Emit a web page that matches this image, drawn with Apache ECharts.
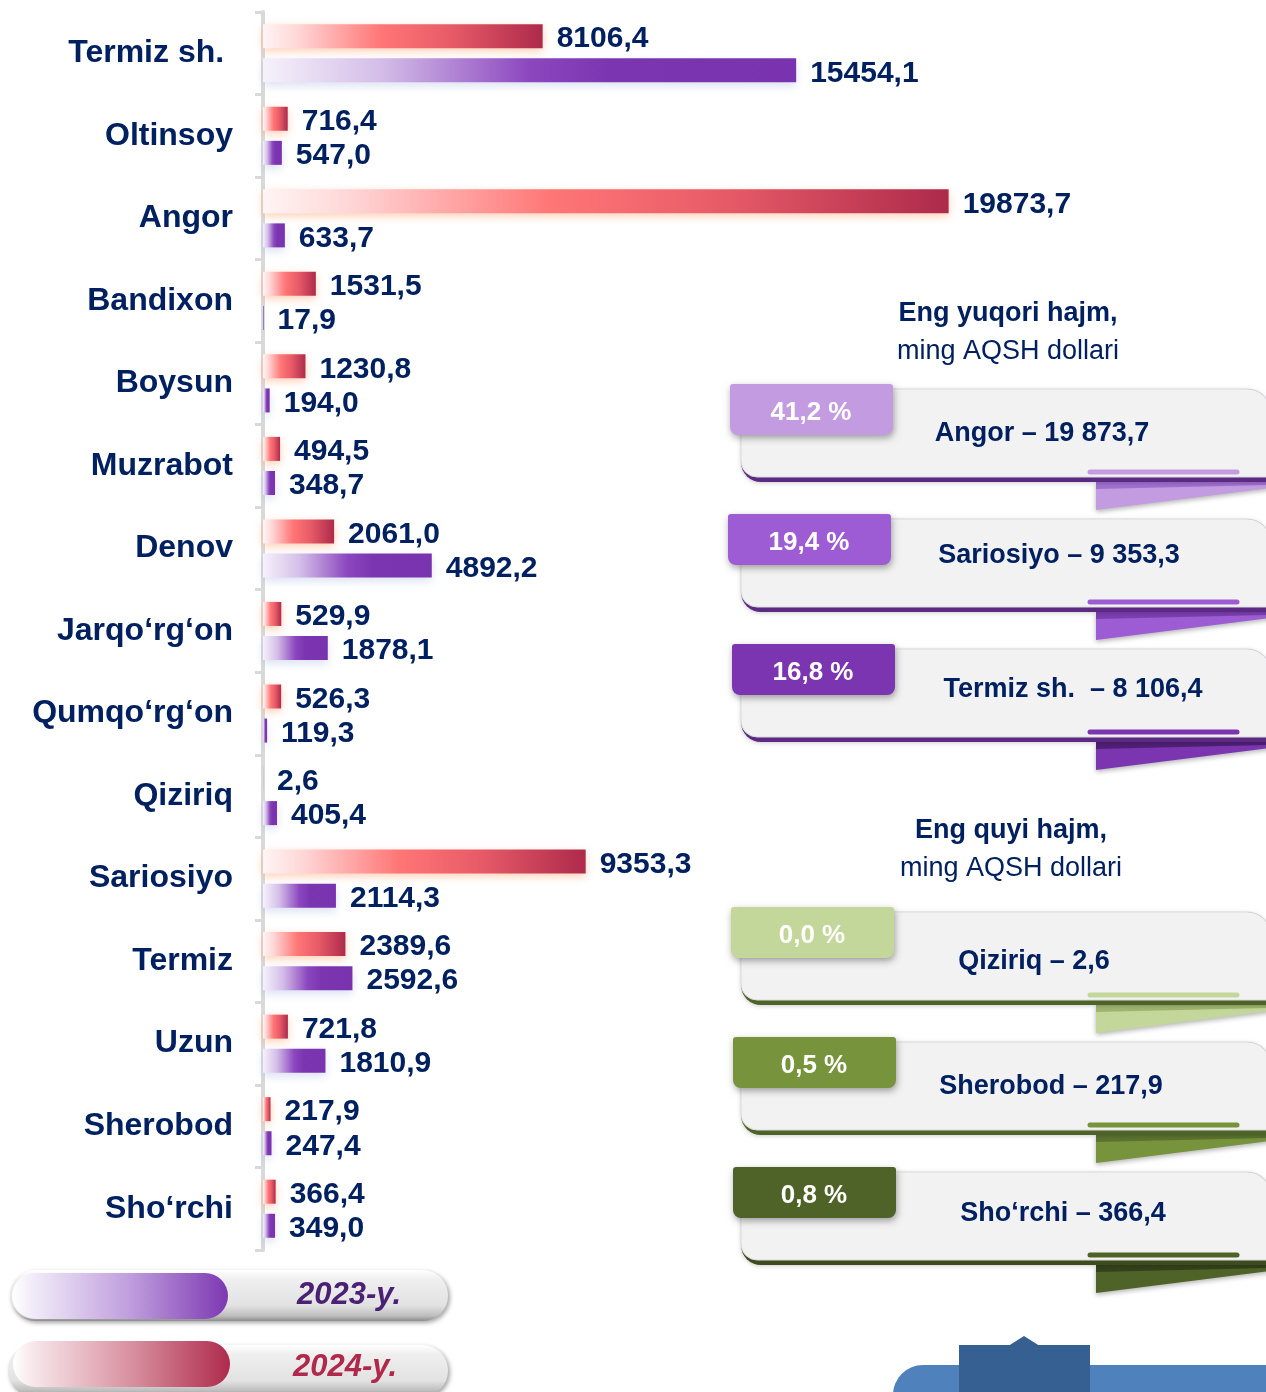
<!DOCTYPE html>
<html>
<head>
<meta charset="utf-8">
<script src="https://cdn.jsdelivr.net/npm/echarts@6/dist/echarts.min.js"></script>
<style>
  html, body { margin: 0; padding: 0; background: #ffffff; }
  #chart { width: 1266px; height: 1392px; }
</style>
</head>
<body>
<div id="chart"></div>
<script>
// Districts, top to bottom
const categories = ['Termiz sh. ', 'Oltinsoy', 'Angor', 'Bandixon', 'Boysun', 'Muzrabot', 'Denov',
  'Jarqo‘rg‘on', 'Qumqo‘rg‘on', 'Qiziriq', 'Sariosiyo', 'Termiz', 'Uzun', 'Sherobod', 'Sho‘rchi'];
// Volumes, thousand US dollars
const values2024 = [8106.4, 716.4, 19873.7, 1531.5, 1230.8, 494.5, 2061.0, 529.9, 526.3, 2.6, 9353.3, 2389.6, 721.8, 217.9, 366.4];
const values2023 = [15454.1, 547.0, 633.7, 17.9, 194.0, 348.7, 4892.2, 1878.1, 119.3, 405.4, 2114.3, 2592.6, 1810.9, 247.4, 349.0];
const seriesNames = ['2024-y.', '2023-y.'];

// Side panels: highest and lowest volumes
const headerTop = ['Eng yuqori hajm,', 'ming AQSH dollari'];
const headerLow = ['Eng quyi hajm,', 'ming AQSH dollari'];
const topShares = ['41,2 %', '19,4 %', '16,8 %'];
const topNames = ['Angor', 'Sariosiyo', 'Termiz sh. '];
const topValues = ['19 873,7', '9 353,3', '8 106,4'];
const lowShares = ['0,0 %', '0,5 %', '0,8 %'];
const lowNames = ['Qiziriq', 'Sherobod', 'Sho‘rchi'];
const lowValues = ['2,6', '217,9', '366,4'];

const FONT = "'Liberation Sans', Arial, sans-serif";
const NAVY = '#002060';

const fmt = v => v.toFixed(1).replace('.', ',');

const redFill = {
  type: 'linear', x: 0, y: 0, x2: 1, y2: 0,
  colorStops: [
    { offset: 0, color: '#fff4f4' },
    { offset: 0.12, color: '#ffd8d8' },
    { offset: 0.42, color: '#ff7676' },
    { offset: 0.68, color: '#e65a67' },
    { offset: 1, color: '#ad2a4b' }
  ]
};
const purpleFill = {
  type: 'linear', x: 0, y: 0, x2: 1, y2: 0,
  colorStops: [
    { offset: 0, color: '#f6f1fb' },
    { offset: 0.22, color: '#d4bee8' },
    { offset: 0.5, color: '#8c47bf' },
    { offset: 0.65, color: '#7b35b0' },
    { offset: 1, color: '#7a33ae' }
  ]
};

// ---- side cards ----
const cardSpecs = [
  { top: 384, bx: 730, badge: '#c39be0', edge: '#5c2a82', fold: '#9f6fcf', share: topShares[0], text: topNames[0] + ' – ' + topValues[0], tx: 1042, ty: 433 },
  { top: 514, bx: 728, badge: '#9d5cd3', edge: '#5c2a82', fold: '#7b3fb0', share: topShares[1], text: topNames[1] + ' – ' + topValues[1], tx: 1059, ty: 555 },
  { top: 644, bx: 732, badge: '#7b35b0', edge: '#5c2a82', fold: '#4f1f75', share: topShares[2], text: topNames[2] + ' – ' + topValues[2], tx: 1073, ty: 689 },
  { top: 907, bx: 731, badge: '#c4d79b', edge: '#4f6228', fold: '#9fb56e', share: lowShares[0], text: lowNames[0] + ' – ' + lowValues[0], tx: 1034, ty: 961 },
  { top: 1037, bx: 733, badge: '#77933c', edge: '#4f6228', fold: '#5b7330', share: lowShares[1], text: lowNames[1] + ' – ' + lowValues[1], tx: 1051, ty: 1086 },
  { top: 1167, bx: 733, badge: '#4f6228', edge: '#3d4c1f', fold: '#34421a', share: lowShares[2], text: lowNames[2] + ' – ' + lowValues[2], tx: 1063, ty: 1213 }
];

function card(c) {
  const t = c.top;
  return [
    // ribbon fold below the card
    { type: 'polygon', z: 1,
      shape: { points: [[1096, t + 98], [1270, t + 98], [1270, t + 104], [1096, t + 126]] },
      style: { fill: c.badge, shadowBlur: 5, shadowColor: 'rgba(0,0,0,0.3)', shadowOffsetY: 2 } },
    { type: 'polygon', z: 2,
      shape: { points: [[1096, t + 98], [1270, t + 98], [1270, t + 101], [1096, t + 105]] },
      style: { fill: c.fold } },
    // dark lower edge
    { type: 'rect', z: 3,
      shape: { x: 741, y: t + 5, width: 530, height: 93, r: [0, 24, 0, 20] },
      style: { fill: c.edge, shadowBlur: 4, shadowColor: 'rgba(0,0,0,0.2)', shadowOffsetY: 1 } },
    // card body
    { type: 'rect', z: 4,
      shape: { x: 741, y: t + 5, width: 530, height: 88, r: [0, 24, 0, 16] },
      style: { fill: '#f2f2f2', stroke: '#dadada', lineWidth: 1 } },
    // accent stroke
    { type: 'line', z: 5,
      shape: { x1: 1090, y1: t + 88, x2: 1237, y2: t + 88 },
      style: { stroke: c.badge, lineWidth: 5, lineCap: 'round' } },
    // percentage badge
    { type: 'rect', z: 6,
      shape: { x: c.bx, y: t, width: 163, height: 51, r: [3, 3, 8, 8] },
      style: { fill: c.badge, shadowBlur: 7, shadowColor: 'rgba(0,0,0,0.35)', shadowOffsetY: 3, shadowOffsetX: 1 } },
    { type: 'text', z: 7,
      style: { x: c.bx + 81, y: t + 29, text: c.share, fill: '#ffffff', font: 'bold 26px ' + FONT, textAlign: 'center', textVerticalAlign: 'middle' } },
    { type: 'text', z: 7,
      style: { x: c.tx, y: c.ty + 1, text: c.text, fill: NAVY, font: 'bold 27px ' + FONT, textAlign: 'center', textVerticalAlign: 'middle' } }
  ];
}

function header(lines, cx, y1, y2) {
  return [
    { type: 'text', style: { x: cx, y: y1, text: lines[0], fill: NAVY, font: 'bold 27px ' + FONT, textAlign: 'center', textVerticalAlign: 'middle' } },
    { type: 'text', style: { x: cx, y: y2, text: lines[1], fill: NAVY, font: '27px ' + FONT, textAlign: 'center', textVerticalAlign: 'middle' } }
  ];
}

// ---- legend pills ----
function pill(o) {
  return [
    { type: 'rect', z: 1,
      shape: { x: o.x, y: o.y, width: o.w, height: 51, r: 25 },
      style: {
        fill: { type: 'linear', x: 0, y: 0, x2: 0, y2: 1, colorStops: [
          { offset: 0, color: '#ffffff' }, { offset: 0.18, color: '#efefef' },
          { offset: 0.7, color: '#e2e2e2' }, { offset: 0.9, color: '#bdbdbd' }, { offset: 1, color: '#8d8d8d' }] },
        shadowBlur: 4, shadowColor: 'rgba(0,0,0,0.35)', shadowOffsetY: 2, shadowOffsetX: 2 } },
    { type: 'rect', z: 2,
      shape: { x: o.ix, y: o.iy, width: o.iw, height: 46, r: 23 },
      style: {
        fill: { type: 'linear', x: 0, y: 0, x2: 1, y2: 0, colorStops: [
          { offset: 0, color: '#ffffff' }, { offset: 0.08, color: o.c0 },
          { offset: 0.55, color: o.c1 }, { offset: 1, color: o.c2 }] } } },
    { type: 'text', z: 3,
      style: { x: o.tx, y: o.ty, text: o.label, fill: o.tc, font: 'italic bold 31px ' + FONT, textAlign: 'left', textVerticalAlign: 'middle' } }
  ];
}

const graphics = [].concat(
  header(headerTop, 1008, 314, 352),
  header(headerLow, 1011, 831, 869),
  ...cardSpecs.map(card),
  pill({ x: 10, y: 1270, w: 438, ix: 12, iy: 1273, iw: 216, c0: '#f3eef9', c1: '#bf9ddd', c2: '#7d38b1', label: seriesNames[1], tc: '#4b2176', tx: 297, ty: 1295 }),
  pill({ x: 8, y: 1345, w: 440, ix: 13, iy: 1341, iw: 217, c0: '#f8e9ec', c1: '#d88f9f', c2: '#ae2b4c', label: seriesNames[0], tc: '#b0284c', tx: 293, ty: 1367 }),
  [
    { type: 'rect', shape: { x: 893, y: 1365, width: 400, height: 60, r: [30, 0, 0, 0] }, style: { fill: '#4f81bd' } },
    { type: 'rect', shape: { x: 959, y: 1345, width: 131, height: 60 }, style: { fill: '#376092' } },
    { type: 'polygon', shape: { points: [[1009, 1345.5], [1024, 1336], [1039, 1345.5]] }, style: { fill: '#376092' } }
  ]
);

const chart = echarts.init(document.getElementById('chart'), null, { renderer: 'canvas' });

const labelStyle = {
  show: true, position: 'right', distance: 14, offset: [0, 3],
  color: NAVY, fontSize: 30, fontWeight: 'bold', fontFamily: FONT,
  formatter: p => fmt(p.value)
};

chart.setOption({
  animation: false,
  backgroundColor: '#ffffff',
  grid: { left: 263, right: 37, top: 12, bottom: 142, containLabel: false },
  xAxis: {
    type: 'value', min: 0, max: 28000, show: false,
    splitLine: { show: false }
  },
  yAxis: {
    type: 'category', inverse: true, data: categories, offset: 4,
    axisLine: { show: true, lineStyle: { color: '#d9d9d9', width: 4 } },
    axisTick: { show: true, length: 8, lineStyle: { color: '#d9d9d9', width: 3 } },
    axisLabel: { color: NAVY, fontSize: 32, fontWeight: 'bold', fontFamily: FONT, margin: 26, padding: [5, 0, 0, 0] },
    splitLine: { show: false }
  },
  series: [
    {
      name: seriesNames[0], type: 'bar', data: values2024,
      barWidth: 24, barGap: '42%',
      itemStyle: { color: redFill, shadowColor: 'rgba(255,150,90,0.45)', shadowBlur: 8, shadowOffsetY: 3 },
      label: labelStyle
    },
    {
      name: seriesNames[1], type: 'bar', data: values2023,
      barWidth: 24, barGap: '42%',
      itemStyle: { color: purpleFill, shadowColor: 'rgba(140,160,215,0.3)', shadowBlur: 8, shadowOffsetY: 4 },
      label: labelStyle
    }
  ],
  graphic: graphics
});
</script>
</body>
</html>
